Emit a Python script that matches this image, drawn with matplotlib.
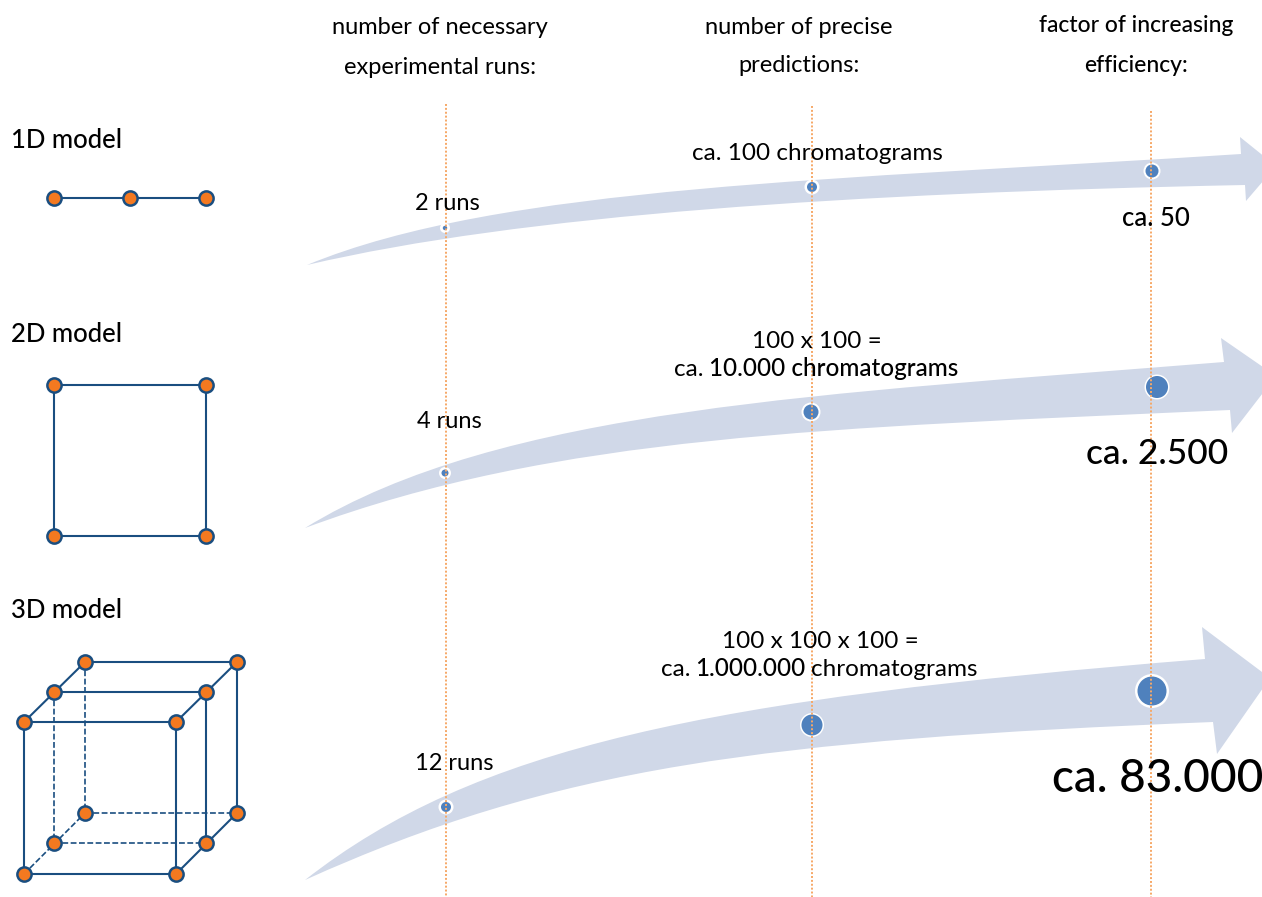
import numpy as np
import matplotlib
matplotlib.use('Agg')
import matplotlib.pyplot as plt
from matplotlib.path import Path
from matplotlib.patches import PathPatch, Circle

plt.rcParams['font.family'] = ['Lato', 'DejaVu Sans']

NAVY = '#1a4e80'
ORANGE = '#f47920'
DOT = '#f6a867'
BAND = '#d0d8e8'
BLUE = '#4f81bd'

# model sketches, in picture pixels
nodes_1d = [(54, 198), (130, 198), (206, 198)]
edges_1d = [((54, 198), (206, 198))]
nodes_2d = [(54, 385), (206, 385), (54, 536), (206, 536)]
edges_2d = [((54, 385), (206, 385)), ((206, 385), (206, 536)), ((206, 536), (54, 536)), ((54, 536), (54, 385))]
nodes_3d = [(24, 722), (176, 722), (24, 874), (176, 874),
            (54, 692), (206, 692), (54, 843), (206, 843),
            (85, 662), (237, 662), (85, 813), (237, 813)]
edges_3d = [((24, 722), (176, 722)), ((176, 722), (176, 874)), ((176, 874), (24, 874)), ((24, 874), (24, 722)),
            ((24, 722), (85, 662)), ((176, 722), (237, 662)), ((176, 874), (237, 813)),
            ((54, 692), (206, 692)), ((85, 662), (237, 662)),
            ((206, 692), (206, 843)), ((237, 662), (237, 813))]
dashed_3d = [((85, 662), (85, 813)), ((54, 692), (54, 843)), ((85, 813), (237, 813)),
             ((54, 843), (206, 843)), ((24, 874), (85, 813))]

# arrows: each edge is one bezier (start, control, control, end), then the head
arrow1_upper = [(307, 265), (500, 185), (841, 180), (1241, 154)]
arrow1_lower = [(307, 265), (520, 215), (850, 193), (1245, 185)]
arrow1_head = [(1240, 137), (1276, 166), (1246, 201)]
arrow2_upper = [(305, 528), (500, 408), (824, 394), (1224, 362)]
arrow2_lower = [(305, 528), (555, 435), (830, 428), (1230, 410)]
arrow2_head = [(1221, 338), (1276, 376), (1232, 433)]
arrow3_upper = [(305, 880), (475, 747), (705, 699), (1205, 659)]
arrow3_lower = [(305, 880), (555, 767), (763, 740), (1213, 722)]
arrow3_head = [(1202, 627), (1270, 678), (1217, 754)]

# x, y, white radius, blue radius
dots = [(445, 228, 5, 2.2), (812, 187, 7.5, 5), (1152, 171, 8.5, 6.5),
        (445, 473, 6, 3.5), (811, 412, 9.5, 7.5), (1157, 387, 12.5, 11),
        (446, 807, 7.5, 5), (812, 725, 12, 10.5), (1152, 691, 17, 14.5)]

guides = [(446, 104), (812, 106), (1151, 111)]

fig = plt.figure(figsize=(12.62, 8.97), dpi=100)
ax = fig.add_axes([0, 0, 1, 1])
ax.set_xlim(0, 1262)
ax.set_ylim(897, 0)
ax.axis('off')


def draw_arrow(upper, head, lower):
    verts = list(upper) + list(head) + [lower[-1]] + list(lower[::-1][1:])
    codes = [Path.MOVETO] + [Path.CURVE4] * 3 + [Path.LINETO] * 4 + [Path.CURVE4] * 3
    ax.add_patch(PathPatch(Path(verts, codes), fc=BAND, ec='none', zorder=1))


def draw_model(nodes, edges, dashed=()):
    for a, b in edges:
        ax.plot([a[0], b[0]], [a[1], b[1]], color=NAVY, lw=1.5, zorder=3, solid_capstyle='butt')
    for a, b in dashed:
        ax.plot([a[0], b[0]], [a[1], b[1]], color=NAVY, lw=1.2, ls=(0, (3.5, 1.5)), zorder=3)
    xs = [n[0] for n in nodes]
    ys = [n[1] for n in nodes]
    ax.scatter(xs, ys, s=105, c=ORANGE, edgecolors=NAVY, linewidths=1.8, zorder=4)


def put_runs(cx, y, runs, size):
    # text made of (string, weight) pieces, centred on cx
    r = fig.canvas.get_renderer()
    items = [ax.text(0, y, s, fontsize=size, fontweight=w, ha='left', va='center', color='black', zorder=6) for s, w in runs]
    widths = [t.get_window_extent(r).width for t in items]
    space = size * 0.3
    x = cx - (sum(widths) + space * (len(runs) - 1)) / 2
    for t, w in zip(items, widths):
        t.set_x(x)
        x += w + space


def label(x, y, s, size, weight='normal', ha='center'):
    ax.text(x, y, s, fontsize=size, fontweight=weight, ha=ha, va='center', color='black', zorder=6)


draw_arrow(arrow1_upper, arrow1_head, arrow1_lower)
draw_arrow(arrow2_upper, arrow2_head, arrow2_lower)
draw_arrow(arrow3_upper, arrow3_head, arrow3_lower)

for x, y, r_w, r_b in dots:
    ax.add_patch(Circle((x, y), r_w, fc='white', ec='none', zorder=2))
    ax.add_patch(Circle((x, y), r_b, fc=BLUE, ec='none', zorder=2.5))

for x, top in guides:
    ax.plot([x, x], [top, 897], color=DOT, lw=1.4, ls=(0, (1, 1)), zorder=5)

draw_model(nodes_1d, edges_1d)
draw_model(nodes_2d, edges_2d)
draw_model(nodes_3d, edges_3d, dashed_3d)

label(440, 28, 'number of necessary', 17)
label(440, 67, 'experimental runs:', 17)
label(799, 28, 'number of precise', 17)
label(799, 66, 'predictions:', 17)
label(1136, 26, 'factor of increasing', 16.5, 'medium')
label(1136, 66, 'efficiency:', 16.5, 'medium')

label(11, 141, '1D model', 18.5, 'medium', ha='left')
label(11, 334, '2D model', 18.5, 'medium', ha='left')
label(11, 611, '3D model', 18.5, 'medium', ha='left')

label(447, 204, '2 runs', 17)
label(449, 422, '4 runs', 17)
label(454, 763, '12 runs', 17)

label(817, 154, 'ca. 100 chromatograms', 17.5)
label(1156, 219, 'ca. 50', 18.5, 'medium')
label(817, 341, '100 x 100 =', 17.5)
put_runs(816, 369, [('ca.', 'normal'), ('10.000 chromatograms', 'medium')], 17.5)
label(1157, 454, 'ca. 2.500', 25.5, 'medium')
label(820, 641, '100 x 100 x 100 =', 17.5)
put_runs(819, 669, [('ca.', 'normal'), ('1.000.000', 'medium'), ('chromatograms', 'normal')], 17.5)
label(1158, 779, 'ca. 83.000', 33, 'medium')

fig.savefig('out.png', dpi=100)
